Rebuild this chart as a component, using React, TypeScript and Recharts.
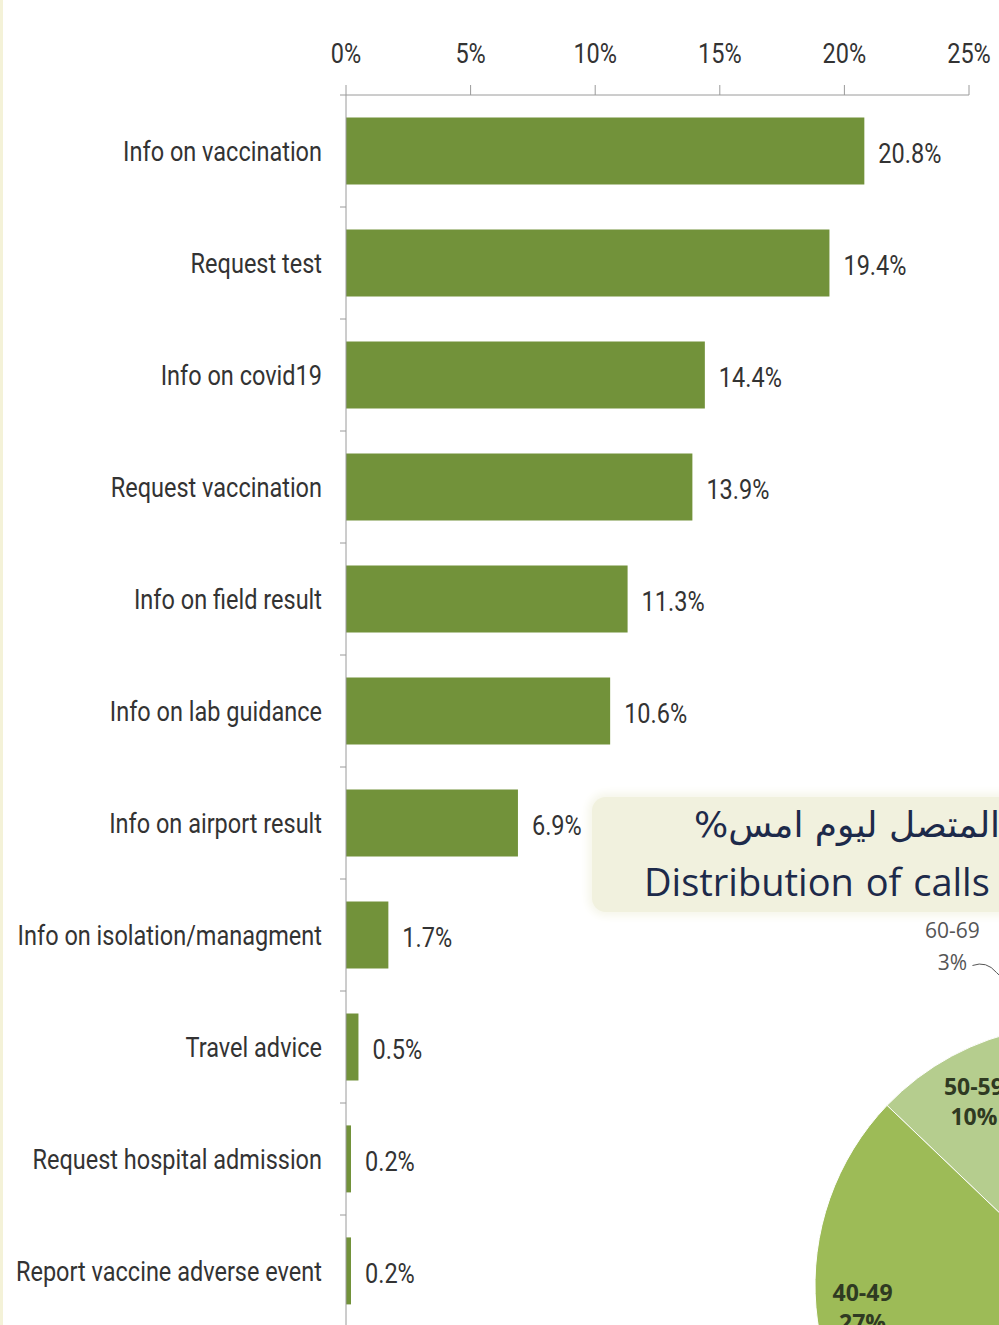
import React from "react";
import { BarChart, Bar, XAxis, YAxis, LabelList, PieChart, Pie, Cell } from "recharts";

const categories = [
  "Info on vaccination",
  "Request test",
  "Info on covid19",
  "Request vaccination",
  "Info on field result",
  "Info on lab guidance",
  "Info on airport result",
  "Info on isolation/managment",
  "Travel advice",
  "Request hospital admission",
  "Report vaccine adverse event",
];
const shares = [20.8, 19.4, 14.4, 13.9, 11.3, 10.6, 6.9, 1.7, 0.5, 0.2, 0.2];
const xTicks = [0, 5, 10, 15, 20, 25];

// age groups of callers (only part of the pie is visible in the picture)
const ageGroups = ["60-69", "50-59", "40-49", "30-39", "20-29", "<20"];
const agePercents = [3, 10, 27, 32, 22, 6];
const ageColors = ["#d4e0bd", "#b5cd8e", "#9dbb57", "#7f9f3f", "#c5d8a2", "#e2ead3"];

const barData = categories.map((name, i) => ({ name, value: shares[i] }));
const pieData = ageGroups.map((name, i) => ({ name, value: agePercents[i] }));

const FONT = "Roboto, sans-serif";
const FS = 28;
const SX = 0.84; // squeeze text to look like the narrow font
const CHART_H = 1340;
const PLOT_TOP = 95;
const PLOT_BOTTOM_MARGIN = 13;

const NarrowText = ({ x, y, anchor, children }: any) => (
  <text
    transform={`translate(${x},${y}) scale(${SX},1)`}
    textAnchor={anchor}
    fill="#333"
    fontSize={FS}
    fontFamily={FONT}
  >
    {children}
  </text>
);

const CategoryTick = (props: any) => {
  const { x, y, payload } = props;
  const half = (CHART_H - PLOT_TOP - PLOT_BOTTOM_MARGIN) / categories.length / 2;
  return (
    <g>
      <line x1={x + 2} x2={x + 8} y1={y - half} y2={y - half} stroke="#9a9a9a" />
      <NarrowText x={x - 16} y={y + 10} anchor="end">
        {payload.value}
      </NarrowText>
    </g>
  );
};

const PercentTick = (props: any) => {
  const { x, y, payload } = props;
  return (
    <NarrowText x={x} y={y} anchor="middle">
      {`${payload.value}%`}
    </NarrowText>
  );
};

const BarValue = (props: any) => {
  const { x, y, width, height, value } = props;
  return (
    <NarrowText x={x + width + 14} y={y + height / 2 + 12} anchor="start">
      {`${Number(value).toFixed(1)}%`}
    </NarrowText>
  );
};

const RAD = Math.PI / 180;
const PIE_FONT = "'Open Sans', sans-serif";
const pieLabel = (p: any) => {
  const { cx, cy, midAngle, outerRadius, name, value } = p;
  if (value < 5) {
    const a = midAngle + 15;
    const tx = cx + (outerRadius + 100) * Math.cos(a * RAD);
    const ty = cy - (outerRadius + 100) * Math.sin(a * RAD);
    const ex = cx + outerRadius * Math.cos(midAngle * RAD);
    const ey = cy - outerRadius * Math.sin(midAngle * RAD);
    return (
      <g>
        <path
          d={`M${tx + 20},${ty + 19} Q${tx + 34},${ty + 14} ${tx + 44},${ty + 26} L${ex},${ey}`}
          stroke="#555"
          fill="none"
        />
        <text x={tx} y={ty - 8} textAnchor="middle" fill="#555" fontSize={21} fontFamily={PIE_FONT}>
          {name}
        </text>
        <text x={tx} y={ty + 24} textAnchor="middle" fill="#555" fontSize={21} fontFamily={PIE_FONT}>
          {value}%
        </text>
      </g>
    );
  }
  const r = outerRadius * 0.82;
  const lx = cx + r * Math.cos(midAngle * RAD);
  const ly = cy - r * Math.sin(midAngle * RAD);
  return (
    <g>
      <text x={lx} y={ly - 2} textAnchor="middle" fill="#2f3a22" fontSize={23} fontWeight="bold" fontFamily={PIE_FONT}>
        {name}
      </text>
      <text x={lx} y={ly + 28} textAnchor="middle" fill="#2f3a22" fontSize={23} fontWeight="bold" fontFamily={PIE_FONT}>
        {value}%
      </text>
    </g>
  );
};

export default function App() {
  return (
    <div style={{ position: "absolute", left: 0, top: 0, width: 999, height: 1325, overflow: "hidden", background: "#fff" }}>
      <div style={{ position: "absolute", left: 0, top: 0, width: 3, height: 1325, background: "#f4f2d8" }} />
      <div style={{ position: "absolute", left: 0, top: 0 }}>
        <BarChart
          width={999}
          height={CHART_H}
          data={barData}
          layout="vertical"
          margin={{ top: PLOT_TOP - 30, right: 30, bottom: PLOT_BOTTOM_MARGIN, left: 0 }}
          barCategoryGap="20%"
        >
          <XAxis
            type="number"
            orientation="top"
            domain={[0, 25]}
            ticks={xTicks}
            height={30}
            tickSize={10}
            tickMargin={22}
            stroke="#9a9a9a"
            tick={<PercentTick />}
          />
          <YAxis
            type="category"
            dataKey="name"
            width={346}
            tickLine={false}
            stroke="#9a9a9a"
            tick={<CategoryTick />}
            interval={0}
          />
          <Bar dataKey="value" fill="#72923a" isAnimationActive={false}>
            <LabelList dataKey="value" content={<BarValue />} />
          </Bar>
        </BarChart>
      </div>

      <div
        style={{
          position: "absolute",
          left: 592,
          top: 797,
          width: 500,
          height: 115,
          background: "#f1f1de",
          borderRadius: 14,
          boxShadow: "0 0 8px 4px #f6f6ea",
        }}
      />
      <div
        style={{
          position: "absolute",
          left: 694,
          top: 804,
          fontFamily: "'DejaVu Sans', serif",
          fontSize: 36,
          color: "#1d2a4a",
          whiteSpace: "nowrap",
        }}
      >
        <span dir="rtl">المتصل ليوم امس%</span>
      </div>
      <div
        style={{
          position: "absolute",
          left: 644,
          top: 855,
          fontFamily: "'Open Sans', sans-serif",
          fontSize: 38,
          wordSpacing: 2,
          color: "#1d2a4a",
          whiteSpace: "nowrap",
        }}
      >
        Distribution of calls by age
      </div>

      <div style={{ position: "absolute", left: 675, top: 885 }}>
        <PieChart width={800} height={800} margin={{ top: 0, right: 0, bottom: 0, left: 0 }}>
          <Pie
            data={pieData}
            dataKey="value"
            nameKey="name"
            cx={400}
            cy={400}
            outerRadius={260}
            startAngle={89.5}
            endAngle={449.5}
            stroke="#ffffff"
            strokeWidth={1}
            label={pieLabel}
            labelLine={false}
            isAnimationActive={false}
          >
            {pieData.map((entry, index) => (
              <Cell key={`${entry.name}-${index}`} fill={ageColors[index % ageColors.length]} />
            ))}
          </Pie>
        </PieChart>
      </div>
    </div>
  );
}
